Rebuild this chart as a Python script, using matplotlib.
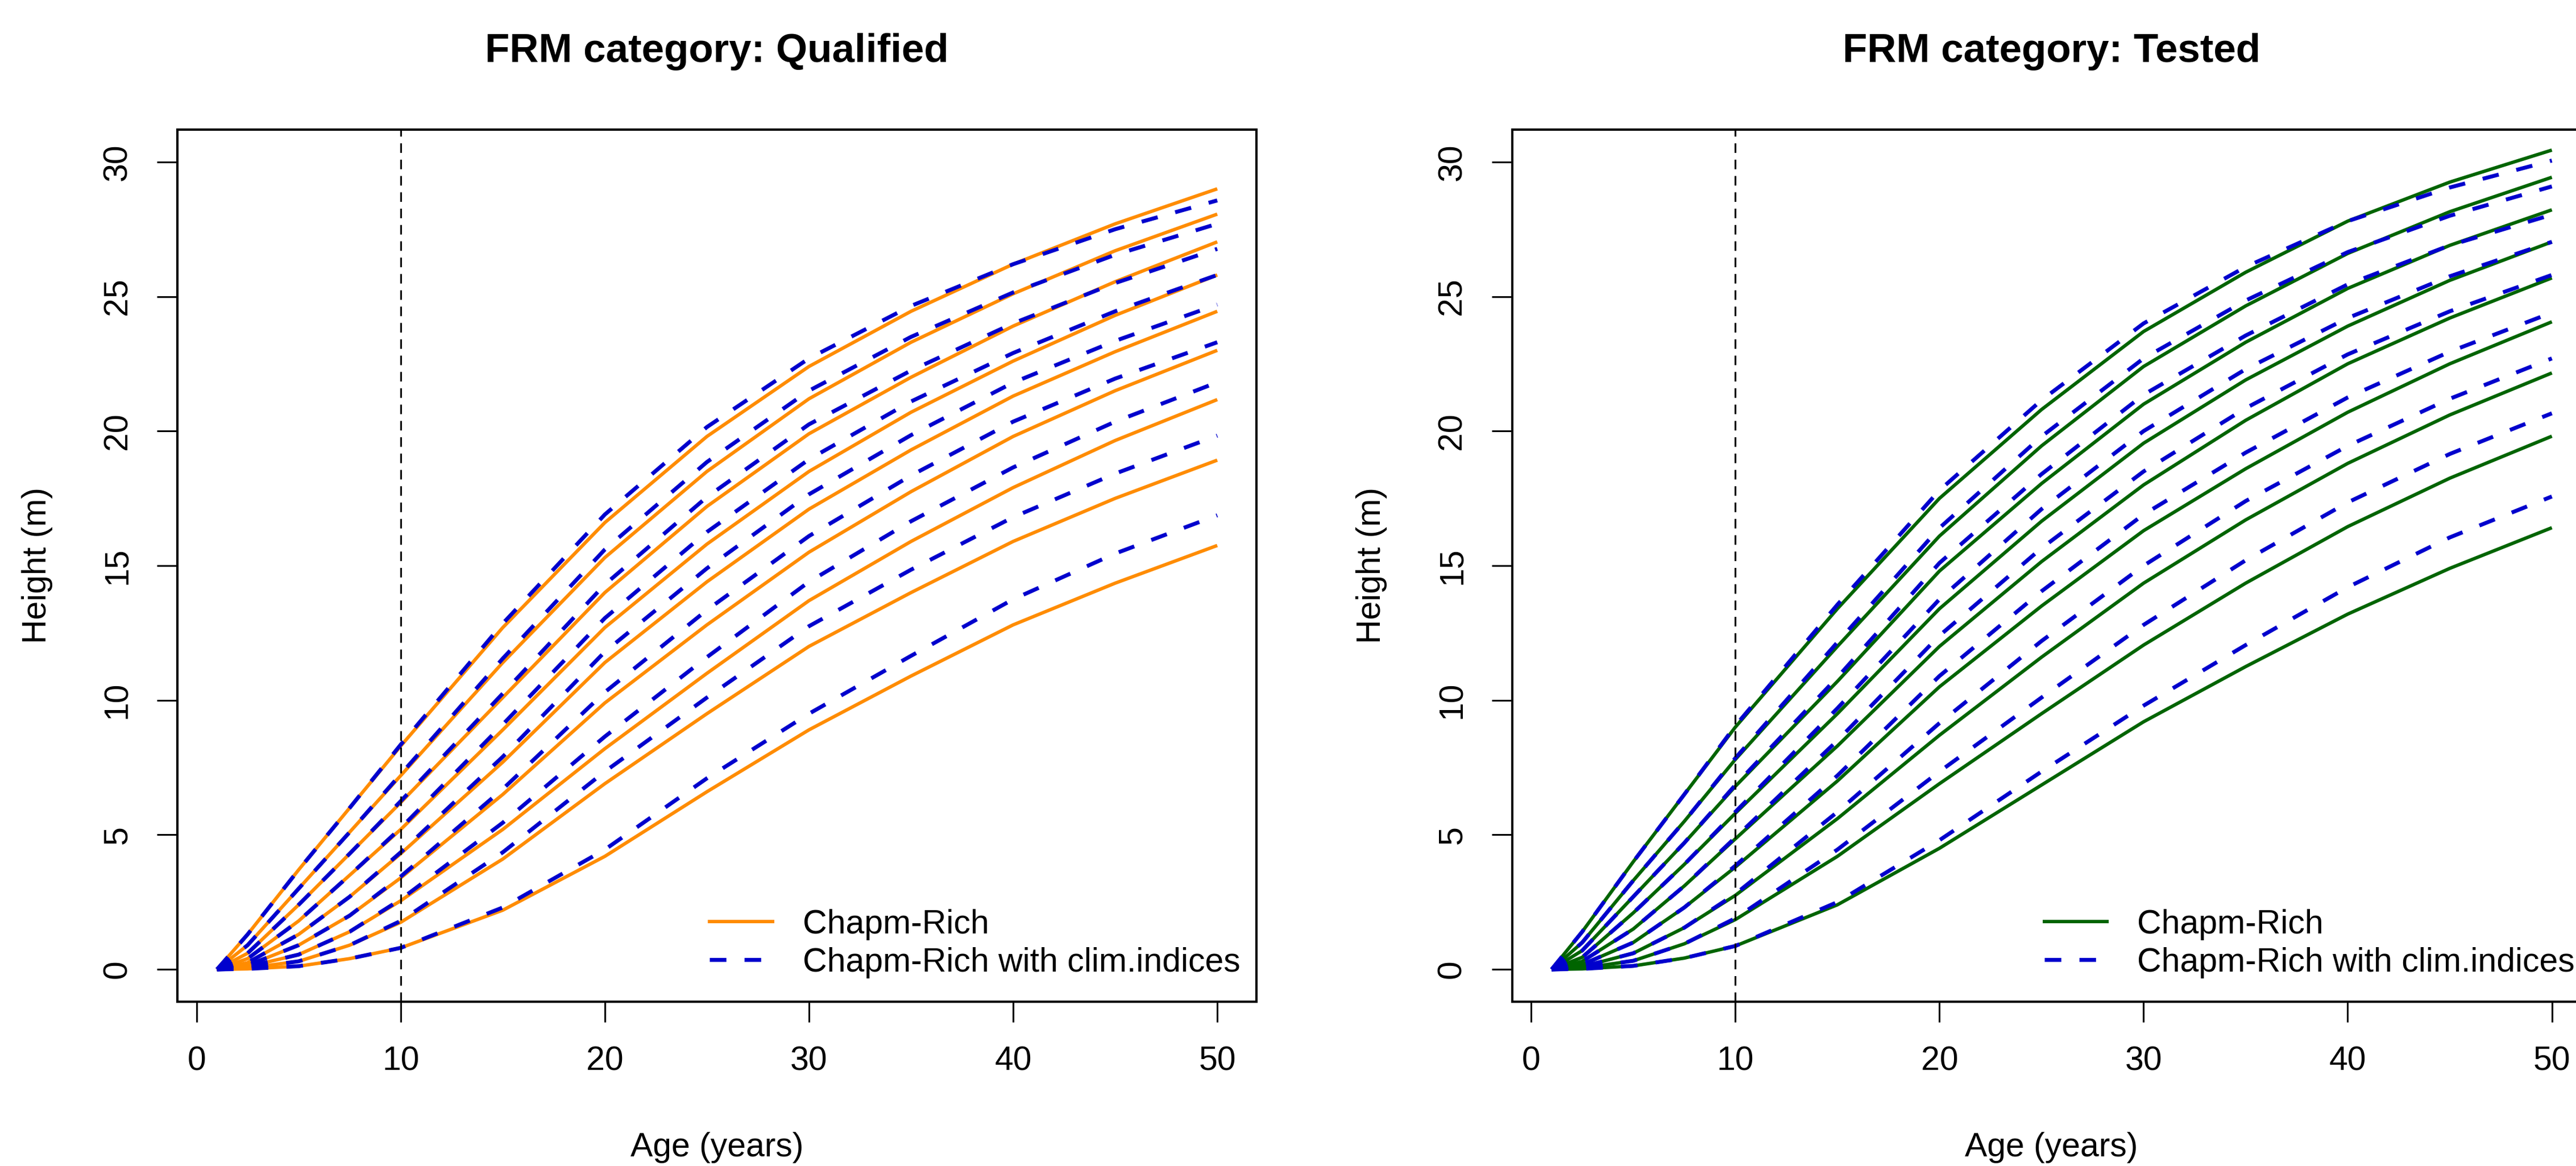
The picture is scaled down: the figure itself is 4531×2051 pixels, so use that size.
import numpy as np
import matplotlib
matplotlib.use('Agg')
import matplotlib.pyplot as plt
from matplotlib.lines import Line2D

plt.rcParams['font.family'] = ['Liberation Sans', 'DejaVu Sans']

ages = [1, 2.5, 5, 7.5, 10, 15, 20, 25, 30, 35, 40, 45, 50]

# FRM category: Qualified
qualified_cr = [
    [0, 1.3, 3.7, 6.0, 8.3, 12.7, 16.6, 19.8, 22.4, 24.45, 26.2, 27.7, 29.0],
    [0, 0.9, 3.0, 5.1, 7.2, 11.4, 15.3, 18.5, 21.2, 23.3, 25.1, 26.7, 28.06],
    [0, 0.6, 2.4, 4.3, 6.2, 10.1, 14.0, 17.2, 19.9, 22.0, 23.9, 25.55, 27.03],
    [0, 0.4, 1.8, 3.5, 5.2, 8.9, 12.7, 15.8, 18.5, 20.7, 22.6, 24.3, 25.8],
    [0, 0.25, 1.3, 2.7, 4.3, 7.7, 11.4, 14.4, 17.1, 19.3, 21.3, 22.95, 24.45],
    [0, 0.15, 0.9, 2.0, 3.4, 6.5, 9.9, 12.8, 15.5, 17.75, 19.8, 21.5, 23.0],
    [0, 0.1, 0.55, 1.4, 2.55, 5.2, 8.2, 11.0, 13.7, 15.9, 17.9, 19.65, 21.17],
    [0, 0.05, 0.3, 0.9, 1.75, 4.1, 6.9, 9.5, 12.0, 14.0, 15.9, 17.5, 18.92],
    [0, 0.02, 0.12, 0.4, 0.8, 2.2, 4.2, 6.6, 8.9, 10.9, 12.8, 14.35, 15.75],
]
qualified_clim = [
    [0, 1.3, 3.7, 6.0, 8.35, 12.85, 16.9, 20.15, 22.7, 24.65, 26.2, 27.5, 28.57],
    [0, 0.9, 3.0, 5.1, 7.25, 11.55, 15.6, 18.85, 21.5, 23.5, 25.15, 26.55, 27.7],
    [0, 0.6, 2.4, 4.3, 6.25, 10.25, 14.3, 17.55, 20.25, 22.25, 24.0, 25.5, 26.77],
    [0, 0.4, 1.8, 3.5, 5.25, 9.1, 13.05, 16.25, 18.95, 21.1, 22.9, 24.45, 25.8],
    [0, 0.25, 1.3, 2.7, 4.35, 7.9, 11.8, 14.9, 17.65, 19.85, 21.8, 23.35, 24.7],
    [0, 0.15, 0.9, 2.0, 3.45, 6.7, 10.3, 13.35, 16.1, 18.35, 20.35, 21.95, 23.3],
    [0, 0.1, 0.55, 1.4, 2.6, 5.45, 8.65, 11.6, 14.4, 16.65, 18.65, 20.35, 21.81],
    [0, 0.05, 0.3, 0.9, 1.8, 4.35, 7.35, 10.1, 12.75, 14.85, 16.8, 18.42, 19.83],
    [0, 0.02, 0.12, 0.4, 0.8, 2.3, 4.45, 7.1, 9.5, 11.65, 13.75, 15.45, 16.87],
]

# FRM category: Tested
tested_cr = [
    [0, 1.4, 4.0, 6.5, 9.0, 13.4, 17.5, 20.8, 23.7, 25.9, 27.8, 29.25, 30.44],
    [0, 1.0, 3.3, 5.5, 7.8, 12.0, 16.1, 19.45, 22.4, 24.65, 26.6, 28.15, 29.43],
    [0, 0.7, 2.7, 4.7, 6.8, 10.7, 14.8, 18.05, 21.0, 23.3, 25.3, 26.9, 28.22],
    [0, 0.45, 2.1, 3.9, 5.8, 9.5, 13.4, 16.65, 19.55, 21.9, 23.9, 25.6, 27.03],
    [0, 0.3, 1.5, 3.1, 4.85, 8.3, 12.0, 15.15, 18.0, 20.4, 22.5, 24.2, 25.69],
    [0, 0.18, 1.0, 2.3, 3.8, 7.0, 10.5, 13.5, 16.3, 18.6, 20.7, 22.5, 24.06],
    [0, 0.1, 0.6, 1.55, 2.75, 5.6, 8.7, 11.6, 14.35, 16.7, 18.8, 20.6, 22.16],
    [0, 0.05, 0.32, 0.95, 1.85, 4.2, 6.9, 9.5, 12.05, 14.35, 16.45, 18.25, 19.81],
    [0, 0.02, 0.13, 0.42, 0.87, 2.4, 4.5, 6.85, 9.2, 11.25, 13.2, 14.9, 16.41],
]
tested_clim = [
    [0, 1.4, 4.0, 6.5, 9.05, 13.55, 17.8, 21.15, 24.0, 26.1, 27.8, 29.05, 30.05],
    [0, 1.0, 3.3, 5.5, 7.85, 12.15, 16.4, 19.8, 22.7, 24.85, 26.65, 28.0, 29.09],
    [0, 0.7, 2.7, 4.7, 6.85, 10.85, 15.1, 18.4, 21.35, 23.55, 25.45, 26.9, 28.04],
    [0, 0.45, 2.1, 3.9, 5.85, 9.7, 13.75, 17.1, 20.0, 22.3, 24.2, 25.75, 27.03],
    [0, 0.3, 1.5, 3.1, 4.9, 8.5, 12.4, 15.65, 18.5, 20.85, 22.85, 24.45, 25.8],
    [0, 0.18, 1.0, 2.3, 3.85, 7.2, 10.9, 14.05, 16.9, 19.2, 21.25, 22.95, 24.4],
    [0, 0.1, 0.6, 1.55, 2.8, 5.85, 9.15, 12.2, 15.0, 17.4, 19.45, 21.2, 22.7],
    [0, 0.05, 0.32, 0.95, 1.9, 4.45, 7.35, 10.1, 12.8, 15.2, 17.35, 19.15, 20.66],
    [0, 0.02, 0.13, 0.42, 0.87, 2.5, 4.8, 7.35, 9.8, 12.05, 14.2, 16.05, 17.57],
]

titles = ['FRM category: Qualified', 'FRM category: Tested']
legend_labels = ['Chapm-Rich', 'Chapm-Rich with clim.indices']
x_ticks = [0, 10, 20, 30, 40, 50]
y_ticks = [0, 5, 10, 15, 20, 25, 30]

FS = 42.4
CLIM_COLOR = '#0000CD'
CLIM_DASH = (0, (4.2, 4.6))


def draw_panel(ax, cr_curves, clim_curves, color, title):
    for h in cr_curves:
        ax.plot(ages, h, color=color, lw=4.3, solid_capstyle='butt', zorder=2)
    for h in clim_curves:
        ax.plot(ages, h, color=CLIM_COLOR, lw=5, linestyle=CLIM_DASH,
                dash_capstyle='butt', zorder=3)
    ax.axvline(10, color='black', lw=2.2, linestyle=(0, (5.5, 3.9)), zorder=4)

    ax.set_xlim(-0.94, 51.92)
    ax.set_ylim(-1.2, 31.2)
    ax.set_xticks(x_ticks)
    ax.set_yticks(y_ticks)
    ax.tick_params(axis='both', direction='out', length=26, width=2.2,
                   labelsize=FS, pad=30, color='black')
    ax.tick_params(axis='y', labelrotation=90)
    for lab in ax.get_yticklabels():
        lab.set_va('center')
    for sp in ax.spines.values():
        sp.set_linewidth(2.9)

    ax.set_title(title, fontsize=51, fontweight='bold', pad=86)
    ax.text(-0.13, 0.5, 'Height (m)', transform=ax.transAxes, rotation=90,
            ha='center', va='center', fontsize=FS)
    ax.text(0.5, -0.167, 'Age (years)', transform=ax.transAxes,
            ha='center', va='center', fontsize=FS)

    handles = [Line2D([], [], color=color, lw=4.3),
               Line2D([], [], color=CLIM_COLOR, lw=5, linestyle=CLIM_DASH)]
    ax.legend(handles, legend_labels, loc='lower right',
              bbox_to_anchor=(0.985, 0.027), frameon=False, fontsize=FS,
              handlelength=1.88, handletextpad=0.9, labelspacing=0.2,
              borderpad=0, borderaxespad=0)


fig = plt.figure(figsize=(45.31, 20.51), dpi=100)
ax1 = fig.add_axes([312 / 4531, 289 / 2051, 1898 / 4531, 1534 / 2051])
ax2 = fig.add_axes([2659.5 / 4531, 289 / 2051, 1898 / 4531, 1534 / 2051])

draw_panel(ax1, qualified_cr, qualified_clim, '#FF8C00', titles[0])
draw_panel(ax2, tested_cr, tested_clim, '#006400', titles[1])

fig.savefig('out.png', dpi=100)
